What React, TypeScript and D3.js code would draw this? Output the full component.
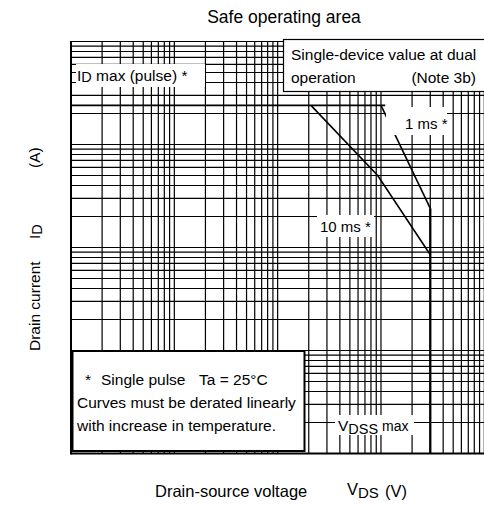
import * as d3 from "d3";

// axis extents (4 decades each, no tick labels shown on the chart)
const vdsDomain = [0.01, 100];
const idDomain = [0.01, 100];

// ID max (pulse) plateau
const idMaxV = [0.01, 11];
const idMaxI = [24, 24];

// 10 ms* boundary
const tenMsV = [2.1, 9.3, 30];
const tenMsI = [24, 5.0, 0.85];

// 1 ms* boundary
const oneMsV = [10, 30];
const oneMsI = [24, 2.4];

// VDSS max
const vdssV = [30, 30];
const vdssI = [2.4, 0.01];

const W = 484;
const H = 510;
const left = 71;
const right = 484.3;
const top = 41.5;
const bottom = 453.5;
const font = "'Liberation Sans', Arial, sans-serif";

const zip = (xs: number[], ys: number[]) => xs.map((v, i) => [v, ys[i]] as [number, number]);

export default function App() {
  const x = d3.scaleLog().domain(vdsDomain).range([left, right]);
  const y = d3.scaleLog().domain(idDomain).range([bottom, top]);

  const line = d3
    .line<[number, number]>()
    .x((d) => x(d[0]))
    .y((d) => y(d[1]));

  const xTicks = x.ticks();
  const yTicks = y.ticks();
  const fs = 15.5;

  return (
    <div style={{ position: "absolute", left: 0, top: 0 }}>
      <svg width={W} height={H} style={{ display: "block", fontFamily: font }}>
        <rect width={W} height={H} fill="#fff" />
        <text x={284} y={23} fontSize={17.5} textAnchor="middle">
          Safe operating area
        </text>

        {/* grid */}
        <g stroke="#000" strokeWidth={1.2}>
          {xTicks.map((t, i) => (
            <line key={"x" + i} x1={x(t)} x2={x(t)} y1={top} y2={bottom} />
          ))}
          {yTicks.map((t, i) => (
            <line key={"y" + i} x1={left} x2={right} y1={y(t)} y2={y(t)} />
          ))}
        </g>
        <line x1={left} x2={left} y1={top - 0.5} y2={bottom + 1} stroke="#000" strokeWidth={2} />
        <line x1={left} x2={right} y1={bottom} y2={bottom} stroke="#000" strokeWidth={2} />

        {/* curves */}
        <g fill="none" stroke="#000">
          <path d={line(zip(idMaxV, idMaxI)) ?? ""} strokeWidth={1.7} />
          <path d={line(zip(tenMsV, tenMsI)) ?? ""} strokeWidth={1.6} />
          <path d={line(zip(oneMsV, oneMsI)) ?? ""} strokeWidth={1.6} />
          <path d={line(zip(vdssV, vdssI)) ?? ""} strokeWidth={2.3} />
        </g>

        {/* in-plot labels */}
        <rect x={76} y={64} width={129} height={23} fill="#fff" />
        <text x={77} y={81} fontSize={fs}>
          I<tspan fontSize={14.5} dy={1}>D</tspan>
          <tspan dy={-1}> max (pulse) *</tspan>
        </text>

        <rect x={386} y={107} width={61} height={28} fill="#fff" />
        <text x={405} y={129} fontSize={15}>1 ms *</text>

        <rect x={317} y={215} width={57} height={22} fill="#fff" />
        <text x={320} y={232} fontSize={15}>10 ms *</text>

        <rect x={335} y={415} width={79} height={20} fill="#fff" />
        <text x={338} y={431} fontSize={fs}>
          V<tspan fontSize={14.5} dy={2.5}>DSS</tspan>
          <tspan fontSize={14} dy={-2.5}> max</tspan>
        </text>

        {/* note boxes */}
        <rect x={283.5} y={39.5} width={210} height={52} fill="#fff" stroke="#000" strokeWidth={1.2} />
        <text x={291} y={60} fontSize={fs}>Single-device value at dual</text>
        <text x={291} y={83} fontSize={fs}>operation</text>
        <text x={476} y={83} fontSize={fs} textAnchor="end">(Note 3b)</text>

        <rect x={72.5} y={351} width={232} height={100} fill="#fff" stroke="#000" strokeWidth={2} />
        <text x={85} y={385} fontSize={fs}>*</text>
        <text x={101} y={385} fontSize={fs}>Single pulse</text>
        <text x={199} y={385} fontSize={fs}>Ta = 25°C</text>
        <text x={77} y={408} fontSize={fs}>Curves must be derated linearly</text>
        <text x={77} y={431} fontSize={fs}>with increase in temperature.</text>

        {/* axis titles */}
        <g transform="translate(40,0) rotate(-90)" fontSize={15.5}>
          <text x={-351} y={0}>Drain current</text>
          <text x={-239} y={0}>
            I<tspan fontSize={14.5} dy={2}>D</tspan>
          </text>
          <text x={-168} y={0}>(A)</text>
        </g>
        <text x={155} y={497} fontSize={16.5}>Drain-source voltage</text>
        <text x={347} y={495} fontSize={16.5}>
          V<tspan fontSize={15} dy={2.5}>DS</tspan>
        </text>
        <text x={385} y={497} fontSize={16.5}>(V)</text>
      </svg>
    </div>
  );
}
